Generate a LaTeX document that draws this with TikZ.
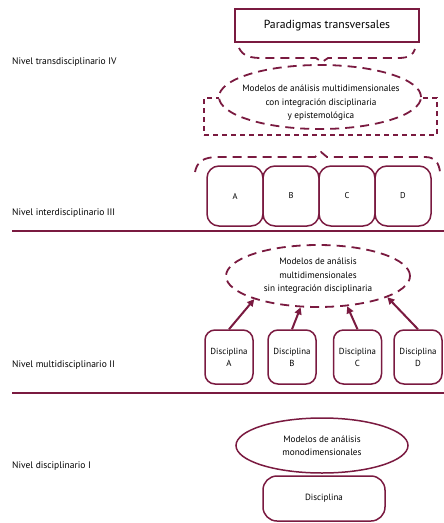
\documentclass[tikz,border=0pt]{standalone}
\usepackage{fontspec}
\setmainfont{PT Sans}
\usetikzlibrary{shapes.geometric,arrows.meta}
\definecolor{mar}{RGB}{122,26,64}
\begin{document}
\begin{tikzpicture}[x=1pt,y=-1pt,
  lvl/.style={anchor=west,inner sep=0pt,font=\fontsize{9.5}{11}\selectfont},
  sqbox/.style={draw=mar,line width=1.5pt,inner sep=0pt,font=\fontsize{11.7}{13}\selectfont},
  rbox/.style={draw=mar,line width=1.5pt,rounded corners=12pt,inner sep=0pt,align=center},
  dsh/.style={draw=mar,line width=1.8pt,dash pattern=on 9pt off 6pt},
  dshs/.style={draw=mar,line width=1.8pt,dash pattern=on 5pt off 4pt},
  ell/.style={ellipse,inner sep=0pt,align=center},
  etext/.style={font=\fontsize{9.2}{13.5}\selectfont},
  divl/.style={draw=mar,line width=2.5pt},
  arr/.style={draw=mar,line width=2pt,-{Triangle[length=7pt,width=7pt]}}
]
\useasboundingbox (0,0) rectangle (444,523);

% level labels
\node[lvl] (l4) at (12,62) {Nivel transdisciplinario IV};
\node[lvl] (l3) at (12,213) {Nivel interdisciplinario III};
\node[lvl] (l2) at (12,365) {Nivel multidisciplinario II};
\node[lvl] (l1) at (12,466) {Nivel disciplinario I};

% level IV
\node[sqbox,minimum width=184pt,minimum height=33pt] (pt) at (327,25.5) {Paradigmas transversales};
\draw[dsh] (239,48) .. controls (243,56) and (250,58) .. (262,58) -- (316,58) -- (322,62) -- (328,58) -- (398,58) .. controls (409,58) and (413,55) .. (415,49);
\node[dshs,minimum width=233pt,minimum height=37pt,inner sep=0pt] (r4) at (320.5,116.5) {};
\node[ell,dsh,fill=white,minimum width=202pt,minimum height=64pt] (m4) at (320,97) {};
\node[etext,align=center,inner sep=0pt] (m4t) at (321,103) {Modelos de análisis multidimensionales\\con integración disciplinaria\\y epistemológica};

% level III
\draw[dsh] (195,172) .. controls (197,162) and (203,157) .. (218,157) -- (315,157) -- (321,152) -- (327,157) -- (425,157) .. controls (435,157) and (439,163) .. (440,172);
\foreach \n/\x in {A/235,B/291,C/347,D/403}{
  \node[rbox,minimum width=56pt,minimum height=60pt,font=\fontsize{8.5}{10}\selectfont] (b\n) at (\x,196) {\n};
}
\draw[divl] (12,231) -- (444,231);

% level II
\node[ell,dsh,minimum width=184pt,minimum height=62pt,etext] (m2) at (318,276) {Modelos de análisis\\multidimensionales\\sin integración disciplinaria};
\foreach \n/\x in {A/229,B/292,C/357.5,D/418}{
  \node[rbox,rounded corners=10pt,minimum width=48pt,minimum height=54pt,font=\fontsize{8.8}{12}\selectfont] (d\n) at (\x,357) {Disciplina\\\n};
}
\draw[arr] (dA.north) -- (m2.200);
\draw[arr] (dB.north) -- (m2.241);
\draw[arr] (dC.north) -- (m2.314);
\draw[arr] (dD.north) -- (m2.343);
\draw[divl] (12,393) -- (444,393);

% level I
\node[ell,draw=mar,line width=1.5pt,minimum width=172pt,minimum height=55pt,etext] (m1) at (322,445.5) {Modelos de análisis\\monodimensionales};
\node[rbox,rounded corners=14pt,minimum width=122pt,minimum height=45pt,font=\fontsize{9}{10}\selectfont] (d1) at (324,498.5) {Disciplina};
\end{tikzpicture}
\end{document}
